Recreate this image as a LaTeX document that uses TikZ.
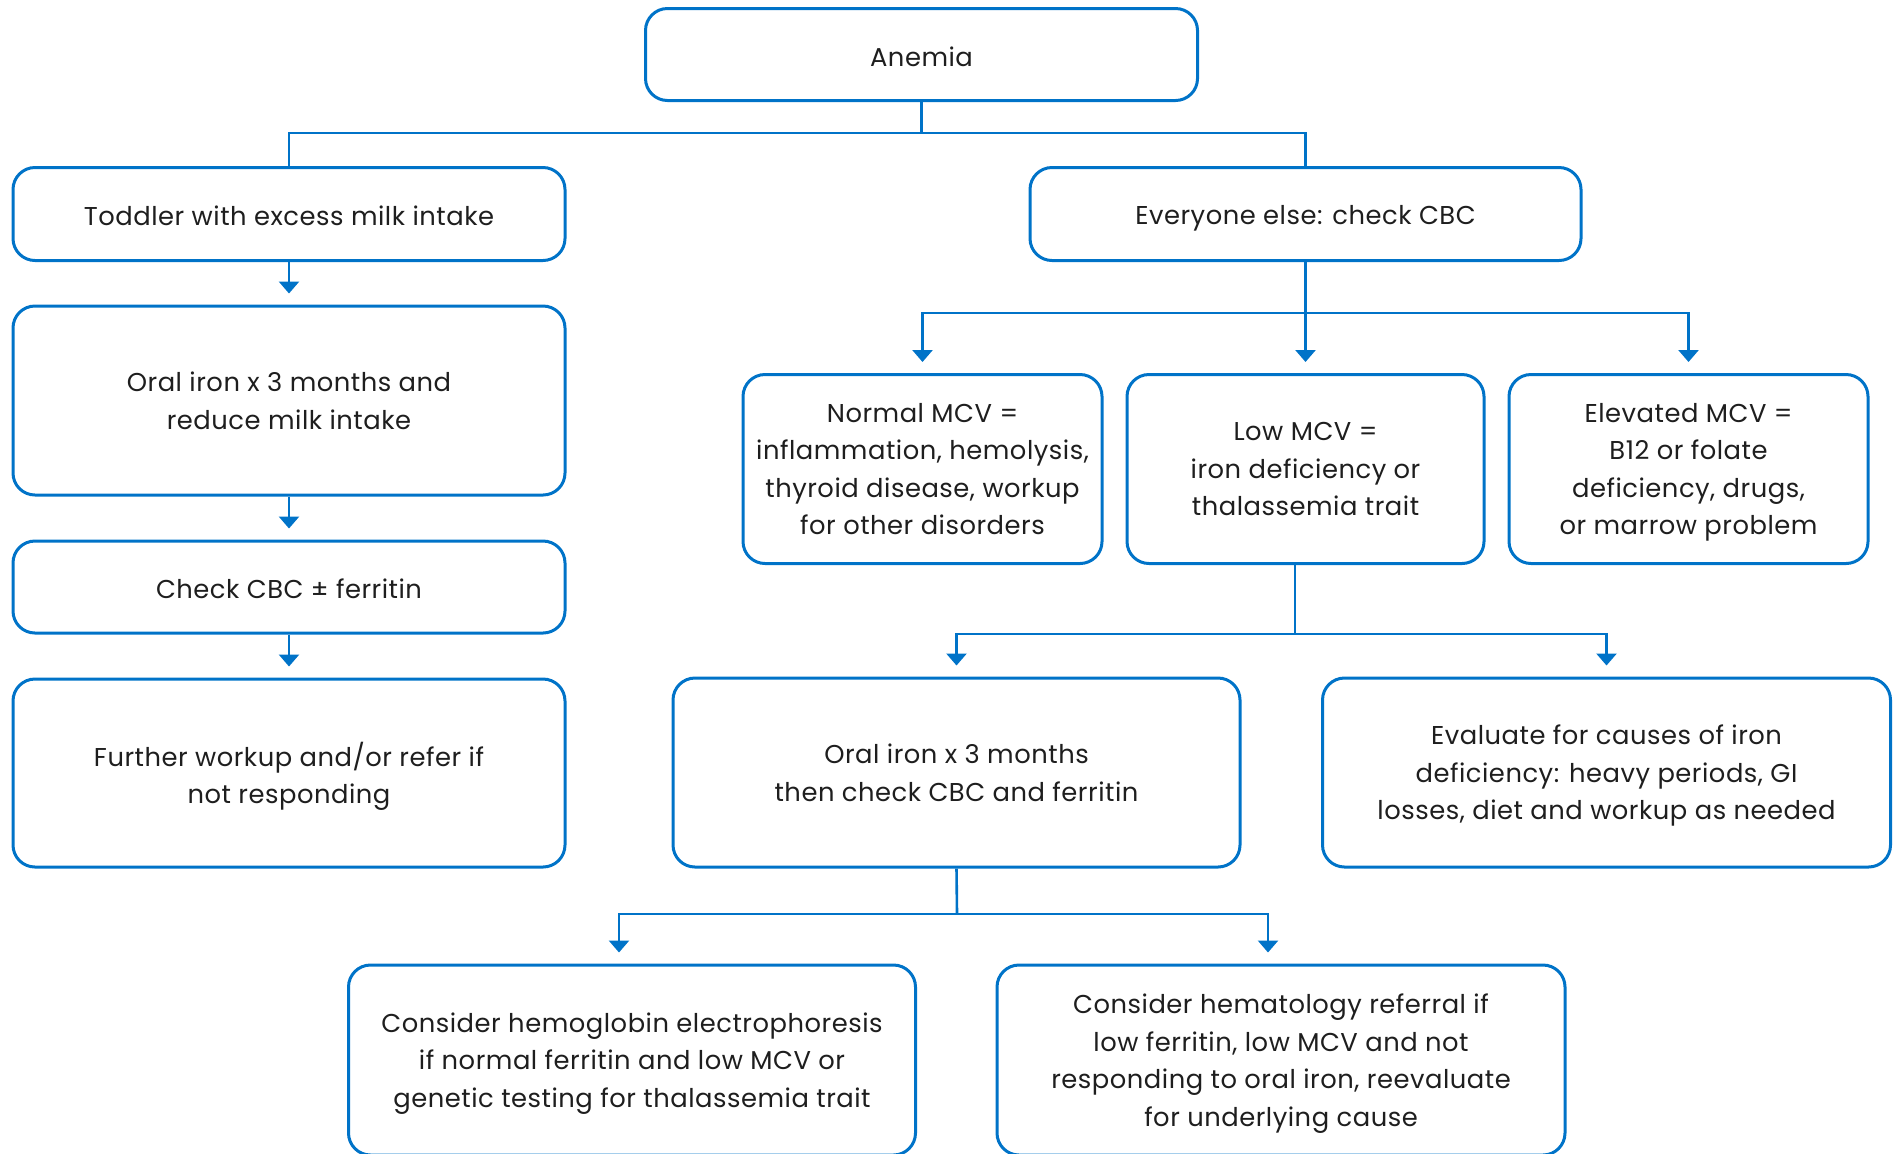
\documentclass[tikz,border=0pt]{standalone}
\usepackage{fontspec}
\setmainfont{Poppins}[LetterSpace=2]
\usetikzlibrary{arrows.meta,calc}
\definecolor{myblue}{RGB}{0,115,200}
\definecolor{txt}{RGB}{30,30,30}
\begin{document}
\begin{tikzpicture}[x=0.5pt,y=-0.5pt,
  box/.style={draw=myblue, line width=1.5pt, rounded corners=11pt, align=center,
    text=txt, inner sep=0pt, text depth=0pt, font=\fontsize{12.9}{18.75}\selectfont},
  conn/.style={draw=myblue, line width=1.3pt},
  arr/.style={conn, -{Triangle[width=10pt,length=6pt]}, shorten >=5.5pt}]
\path[use as bounding box] (0,0) rectangle (1898,1153);
\clip (0,0) rectangle (1898,1153);

\node[box, minimum width=276pt, minimum height=46pt] (anemia) at (921.5,54.5) {\raisebox{-2.4pt}{Anemia}};
\node[box, minimum width=276pt, minimum height=46.5pt] (toddler) at (289,214) {\raisebox{-1.2pt}{Toddler with excess milk intake}};
\node[box, minimum width=275.5pt, minimum height=46.5pt] (everyone) at (1305.5,214) {\raisebox{-1.2pt}{Everyone else: check CBC}};
\node[box, minimum width=276pt, minimum height=94.5pt] (oral1) at (289,400.5) {Oral iron x 3 months and\\reduce milk intake};
\node[box, minimum width=276pt, minimum height=46pt] (check) at (289,587) {\raisebox{-1.2pt}{Check CBC ± ferritin}};
\node[box, minimum width=276pt, minimum height=94pt] (further) at (289,773) {Further workup and/or refer if\\not responding};

\node[box, minimum width=179.5pt, minimum height=94.5pt] (normal) at (922.5,469) {Normal MCV =\\inflammation, hemolysis,\\thyroid disease, workup\\for other disorders};
\node[box, minimum width=178.5pt, minimum height=94.5pt] (low) at (1305.5,469) {Low MCV =\\iron deficiency or\\thalassemia trait};
\node[box, minimum width=179.5pt, minimum height=94.5pt] (elev) at (1688.5,469) {Elevated MCV =\\B12 or folate\\deficiency, drugs,\\or marrow problem};

\node[box, minimum width=283.5pt, minimum height=94.5pt] (oral2) at (956.5,772.5) {Oral iron x 3 months\\then check CBC and ferritin};
\node[box, minimum width=284pt, minimum height=94.5pt] (eval) at (1606.5,772.5) {Evaluate for causes of iron\\deficiency: heavy periods, GI\\losses, diet and workup as needed};

\node[box, minimum width=283.5pt, minimum height=95pt] (hemo) at (632,1060) {Consider hemoglobin electrophoresis\\if normal ferritin and low MCV or\\genetic testing for thalassemia trait};
\node[box, minimum width=284pt, minimum height=95pt] (hema) at (1281,1060) {Consider hematology referral if\\low ferritin, low MCV and not\\responding to oral iron, reevaluate\\for underlying cause};

% top branch
\coordinate (b1) at (921.5,133);
\draw[conn] (anemia.south) -- (b1);
\draw[conn] (toddler.north) |- (b1) -| (everyone.north);

% left column
\draw[arr] (toddler.south) -- (oral1.north);
\draw[arr] (oral1.south) -- (check.north);
\draw[arr] (check.south) -- (further.north);

% everyone else
\coordinate (b2) at (1305.5,313);
\draw[arr] (everyone.south) -- (low.north);
\draw[arr] (b2) -| (normal.north);
\draw[arr] (b2) -| (elev.north);

% low MCV
\coordinate (b3) at (1295,634);
\draw[conn] (b3 |- low.south) -- (b3);
\draw[arr] (b3) -| (oral2.north);
\draw[arr] (b3) -| (eval.north);

% oral iron 2
\coordinate (b4) at (957,914);
\coordinate (t1) at ($(hemo.north)+(-13,0)$);
\coordinate (t2) at ($(hema.north)+(-13,0)$);
\draw[conn] (oral2.south) -- (b4);
\draw[arr] (b4) -| (t1);
\draw[arr] (b4) -| (t2);
\end{tikzpicture}
\end{document}
